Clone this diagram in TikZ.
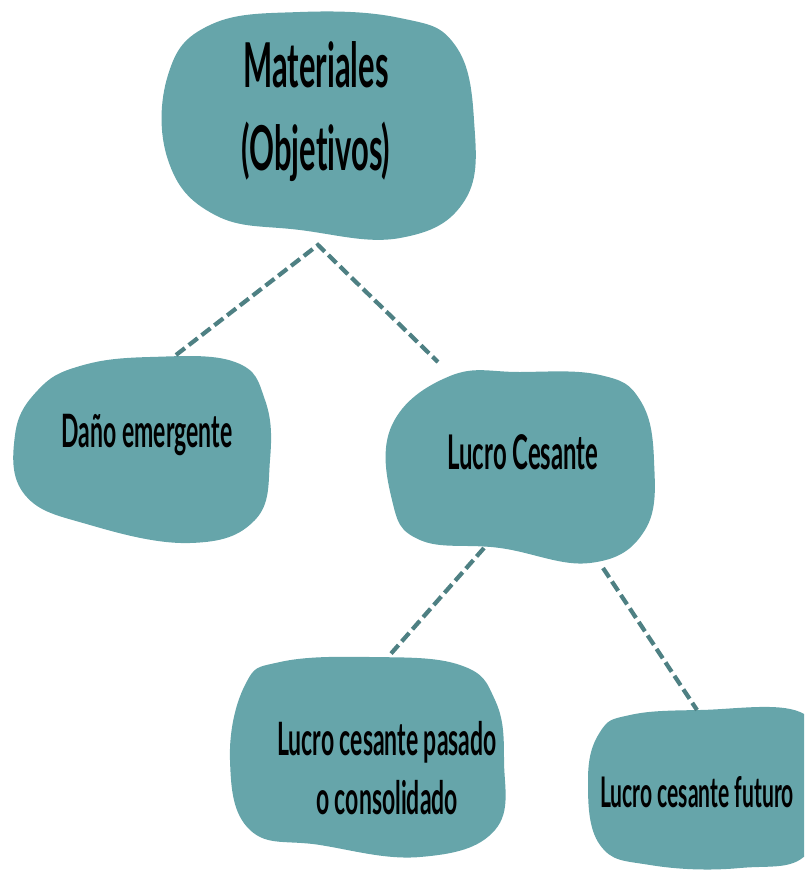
\documentclass[tikz,border=0pt]{standalone}
\usepackage{fontspec}
\setmainfont{Lato}[FakeStretch=0.5, Ligatures=NoCommon]
\usetikzlibrary{calc}
\definecolor{Teal}{RGB}{102, 165, 170}
\definecolor{DarkTeal}{RGB}{78, 128, 131}

\begin{document}
\begin{tikzpicture}[x=0.025cm, y=-0.025cm]

\useasboundingbox (0,0) rectangle (804,876);
\clip (0,0) rectangle (804,876);

\tikzset{
  blob/.style={fill=Teal, draw=none},
  label/.style={align=center, text=black, inner sep=0pt},
  link/.style={DarkTeal, line width=3pt, dash pattern=on 8pt off 3.5pt}
}

% Blobs
\fill[blob] plot[smooth cycle, tension=0.7] coordinates {
  (210,25) (300,12) (400,18) (455,45) (474,120) (465,200)
  (400,238) (300,230) (215,215) (168,160) (168,75)};
\fill[blob] plot[smooth cycle, tension=0.7] coordinates {
  (80,366) (150,357) (235,362) (265,400) (270,460) (255,520)
  (190,543) (90,525) (25,495) (15,435) (38,390)};
\fill[blob] plot[smooth cycle, tension=0.7] coordinates {
  (450,376) (520,372) (600,375) (640,400) (654,460) (645,530)
  (590,563) (500,548) (420,540) (392,500) (392,425)};
\fill[blob] plot[smooth cycle, tension=0.7] coordinates {
  (280,662) (370,657) (460,665) (495,700) (504,760) (495,830)
  (420,857) (320,845) (250,830) (230,760) (245,685)};
\fill[blob] plot[smooth cycle, tension=0.7] coordinates {
  (630,715) (700,710) (800,712) (815,760) (810,850) (740,868)
  (650,865) (600,845) (588,780) (600,732)};

% Labels
\node[label, font=\fontsize{44}{59}\selectfont\bfseries] (mat) at (316,112)
  {Materiales\\(Objetivos)};
\node[label, font=\fontsize{32.7}{42}\selectfont\bfseries] (dano) at (147,435)
  {Daño emergente};
\node[label, font=\fontsize{34}{42}\selectfont\bfseries] (lucro) at (523,452)
  {Lucro Cesante};
\node[label, font=\fontsize{32.7}{42}\selectfont\bfseries] (pasado) at (387,768)
  {Lucro cesante pasado\\o consolidado};
\node[label, font=\fontsize{30}{42}\selectfont\bfseries] (futuro) at (697,792)
  {Lucro cesante futuro};

% Connector ends
\coordinate (matB) at (318,245);
\coordinate (danoT) at (176,355);
\coordinate (lucroT) at (438,362);
\coordinate (lucroBL) at (484,548);
\coordinate (lucroBR) at (603,568);
\coordinate (pasadoT) at (388,657);
\coordinate (futuroT) at (697,710);

% Dashed links
\draw[link] (danoT) -- (matB) -- (lucroT);
\draw[link] (lucroBL) -- (pasadoT);
\draw[link] (lucroBR) -- (futuroT);

\end{tikzpicture}
\end{document}
